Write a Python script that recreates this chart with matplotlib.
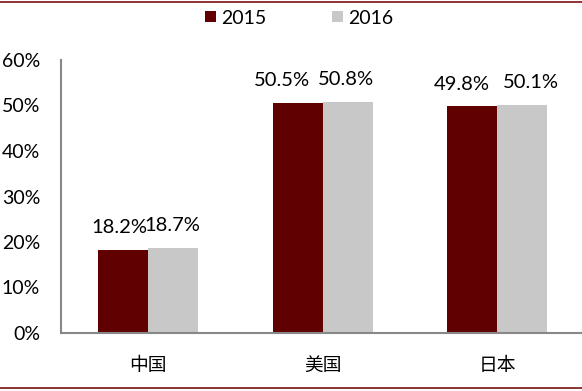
import matplotlib.pyplot as plt
import numpy as np
from matplotlib.lines import Line2D

categories = ['中国', '美国', '日本']
years = ['2015', '2016']
share_2015 = [18.2, 50.5, 49.8]
share_2016 = [18.7, 50.8, 50.1]
yticks = [0, 10, 20, 30, 40, 50, 60]

plt.rcParams['font.family'] = ['Lato', 'Noto Sans CJK SC', 'DejaVu Sans']

fig = plt.figure(figsize=(5.82, 3.91), dpi=100)
W, H = 582, 391
ax = fig.add_axes([61 / W, 1 - 333 / H, (582 - 61) / W, (333 - 60) / H])

x = np.arange(len(categories))
w = 0.286
b1 = ax.bar(x - w / 2, share_2015, w, color='#600000', label=years[0])
b2 = ax.bar(x + w / 2, share_2016, w, color='#c8c8c8', label=years[1])

# labels in the original are nudged sideways a bit (pixels)
nudge = [[-4, -1], [-16, -2], [-10, 9]]
for j, (bars, vals) in enumerate(((b1, share_2015), (b2, share_2016))):
	for i, (b, v) in enumerate(zip(bars, vals)):
		ax.annotate('%.1f%%' % v, (b.get_x() + b.get_width() / 2, v),
			xytext=(nudge[i][j] * 0.72, 10), textcoords='offset points',
			ha='center', va='bottom', fontsize=14.5)

ax.set_xlim(-0.5, 2.486)
ax.set_ylim(0, 60)
ax.set_yticks(yticks)
ax.set_yticklabels(['%d%%' % t for t in yticks], fontsize=14)
ax.set_xticks(x)
ax.set_xticklabels(categories, fontsize=13.5)
ax.tick_params(axis='both', length=0)
ax.tick_params(axis='y', pad=15)
ax.tick_params(axis='x', pad=17)

for s in ('top', 'right'):
	ax.spines[s].set_visible(False)
for s in ('left', 'bottom'):
	ax.spines[s].set_color('#888888')
	ax.spines[s].set_linewidth(1.5)

ax.legend(loc='center', bbox_to_anchor=(299 / W, 1 - 18 / H), bbox_transform=fig.transFigure,
	ncol=2, frameon=False, fontsize=14, handlelength=0.54, handleheight=0.54,
	handletextpad=0.26, columnspacing=3.4)

fig.add_artist(Line2D([0, 1], [1 - 1.5 / H, 1 - 1.5 / H], color='#7a1010', lw=1.2, transform=fig.transFigure))
fig.add_artist(Line2D([0, 1], [1 - 388 / H, 1 - 388 / H], color='#7a1010', lw=1.2, transform=fig.transFigure))

fig.savefig('out.png', dpi=100)
